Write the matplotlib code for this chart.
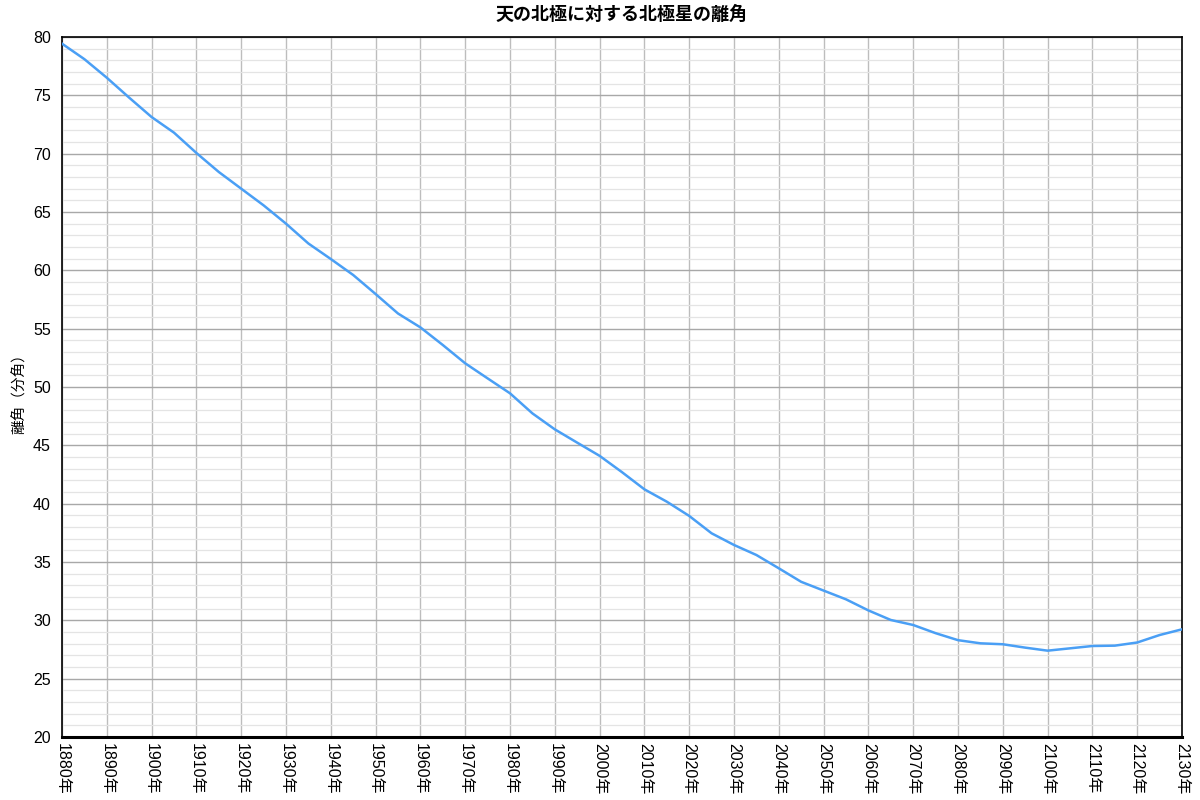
import matplotlib.pyplot as plt
from matplotlib.ticker import MultipleLocator

plt.rcParams['font.family'] = ['Liberation Sans', 'Noto Sans CJK JP', 'DejaVu Sans']

# year (every 5 years) and distance of Polaris from the north celestial pole (arcmin)
years = list(range(1880, 2131, 5))
arcmin = [79.43, 78.1, 76.51, 74.8, 73.14, 71.8, 70.06, 68.43, 67.0, 65.57,
          64.0, 62.3, 60.97, 59.6, 57.97, 56.3, 55.11, 53.6, 52.03, 50.74,
          49.46, 47.74, 46.37, 45.23, 44.1, 42.7, 41.23, 40.17, 38.95, 37.46,
          36.46, 35.6, 34.46, 33.3, 32.55, 31.8, 30.85, 30.03, 29.6, 28.9,
          28.3, 28.03, 27.95, 27.66, 27.4, 27.6, 27.8, 27.83, 28.1, 28.74,
          29.23]
tick_years = list(range(1880, 2131, 10))

fig = plt.figure(figsize=(12, 8), dpi=100)
ax = fig.add_axes([62 / 1200, 1 - 737 / 800, 1120 / 1200, 700 / 800])

ax.plot(years, arcmin, color='#4a9ff5', linewidth=1.8, zorder=3)

ax.set_xlim(1880, 2130)
ax.set_ylim(20, 80)
ax.yaxis.set_major_locator(MultipleLocator(5))
ax.yaxis.set_minor_locator(MultipleLocator(1))

ax.grid(True, axis='x', which='major', color='#bdbdbd', linewidth=1.0)
ax.grid(True, axis='y', which='major', color='#a8a8a8', linewidth=1.0)
ax.grid(True, axis='y', which='minor', color='#e4e4e4', linewidth=0.9)
ax.set_axisbelow(True)

ax.set_xticks(tick_years)
ax.set_xticklabels([f'{y}年' for y in tick_years], rotation=270, fontsize=11.5)
ax.tick_params(axis='both', which='both', length=0, labelsize=11.5)
ax.tick_params(axis='x', pad=4)
ax.tick_params(axis='y', pad=8)

for side in ['top', 'left', 'right']:
    ax.spines[side].set_color('black')
    ax.spines[side].set_linewidth(1.2)
ax.spines['bottom'].set_linewidth(2.2)
ax.spines['bottom'].set_color('black')

ax.set_ylabel('離角（分角）', fontsize=10.5, family=['Noto Sans CJK JP', 'DejaVu Sans'])
ax.yaxis.set_label_coords(-0.031, 0.496)
ax.set_title('天の北極に対する北極星の離角', fontsize=13, fontweight='bold', pad=12,
             family=['Noto Sans CJK JP', 'DejaVu Sans'])

fig.savefig('out.png', dpi=100)
